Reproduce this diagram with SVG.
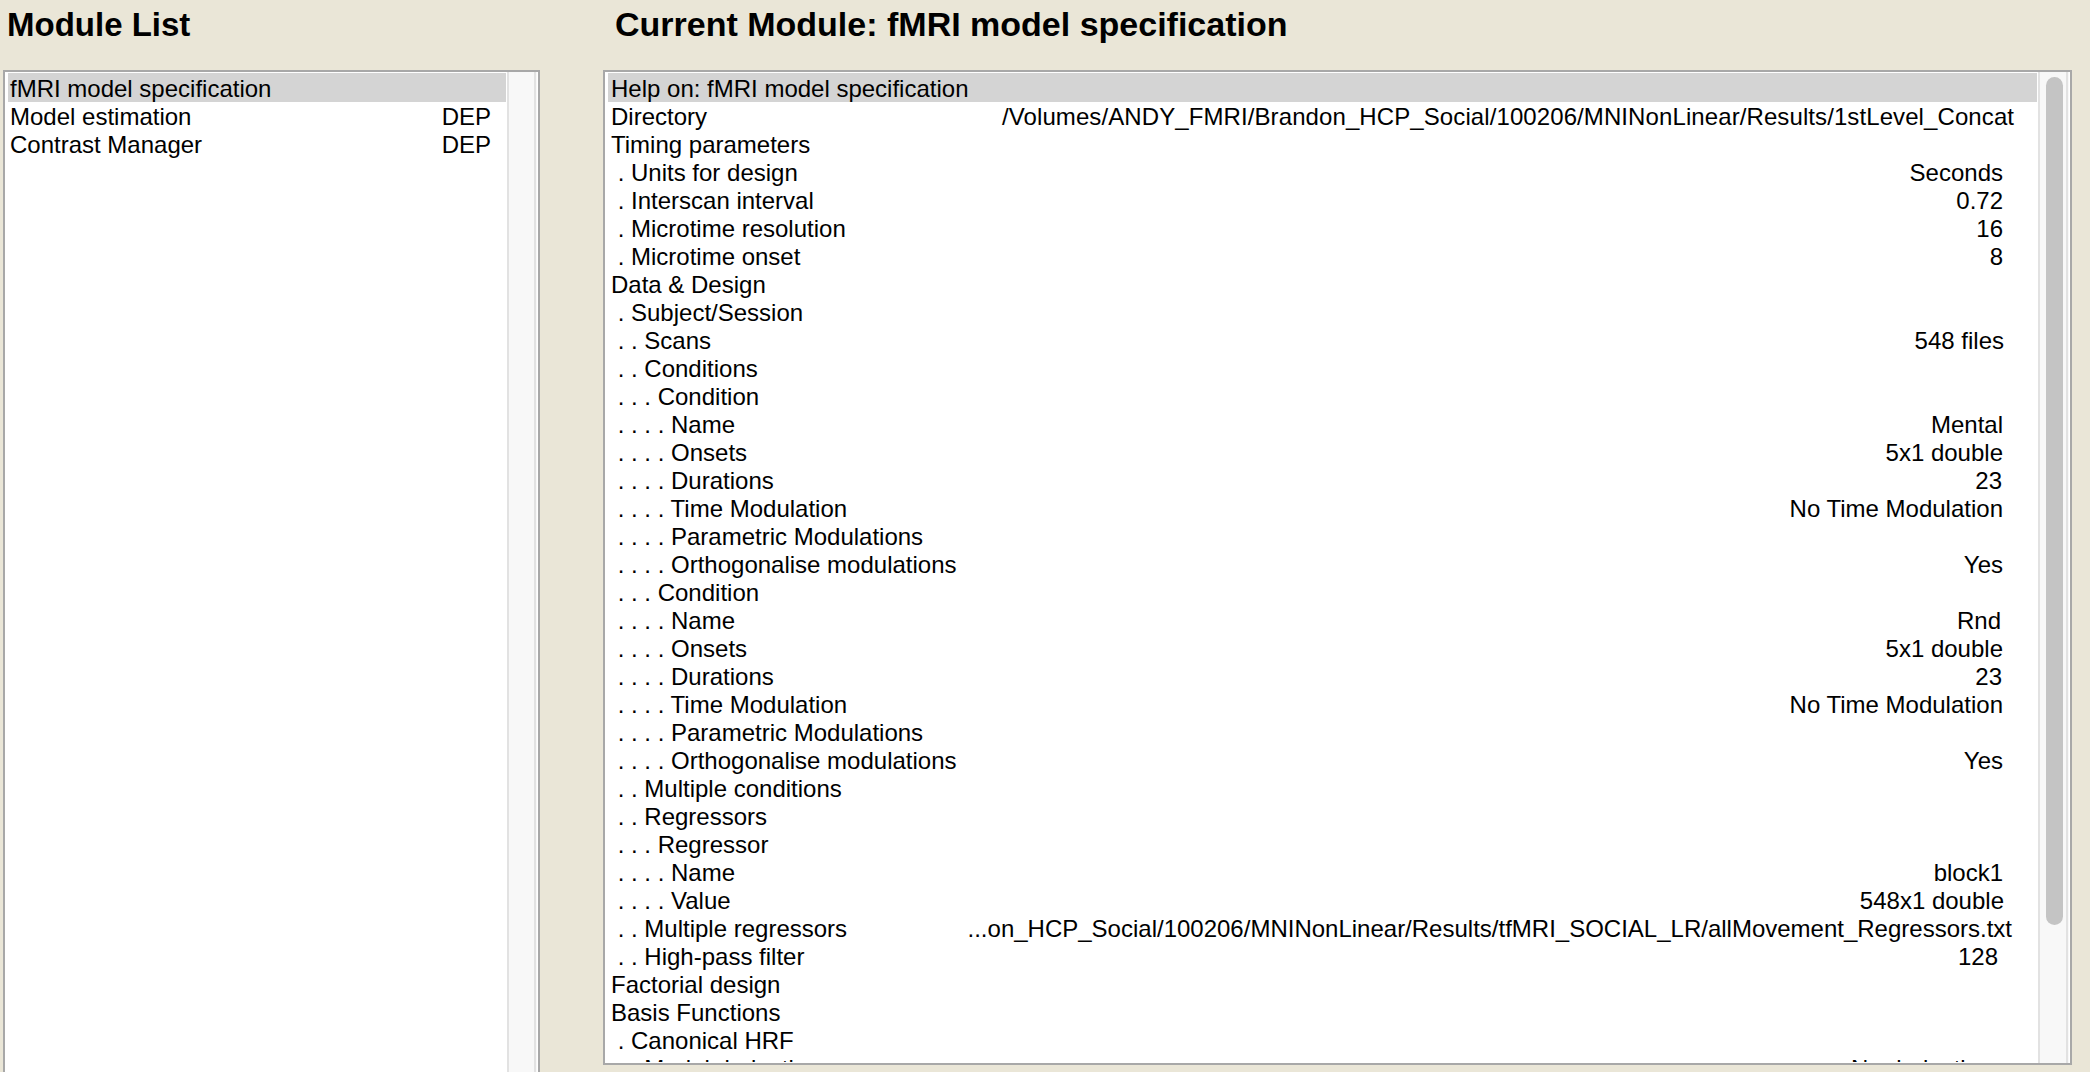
<svg xmlns="http://www.w3.org/2000/svg" width="2090" height="1072" viewBox="0 0 2090 1072">
<style>
  .title { font-family: "Liberation Sans", Arial, sans-serif; font-weight: bold; font-size: 33px; fill: #000; }
  .t { font-family: "Liberation Sans", Arial, sans-serif; font-size: 24px; fill: #000; white-space: pre; }
  .v { font-family: "Liberation Sans", Arial, sans-serif; font-size: 24px; fill: #000; text-anchor: end; }
  .box { fill: #ffffff; stroke: #a8a8a8; stroke-width: 2; }
  .hl { fill: #d4d4d4; }
  .trough { fill: #f8f8f8; }
  .tline { stroke: #e2e2e2; stroke-width: 2; }
</style>
<defs>
  <clipPath id="rclip"><rect x="605" y="72" width="1432" height="990"/></clipPath>
  <clipPath id="lclip"><rect x="5" y="72" width="501" height="1000"/></clipPath>
</defs>
<rect x="0" y="0" width="2090" height="1072" fill="#eae6d7"/>

<g id="module-list">
  <text class="title" x="7" y="36">Module List</text>
  <rect class="box" x="4" y="71" width="535" height="1010"/>
  <rect class="trough" x="507" y="72" width="30" height="1000"/>
  <line class="tline" x1="508" y1="72" x2="508" y2="1072"/>
  <line class="tline" x1="535" y1="72" x2="535" y2="1072"/>
  <g clip-path="url(#lclip)">
    <rect class="hl" x="8" y="73" width="498" height="29"/>
    <text class="t" x="10" y="97">fMRI model specification</text>
    <text class="t" x="10" y="125">Model estimation</text>
    <text class="v" x="491" y="125">DEP</text>
    <text class="t" x="10" y="153">Contrast Manager</text>
    <text class="v" x="491" y="153">DEP</text>
  </g>
</g>

<g id="current-module">
  <text class="title" x="615" y="36" style="font-size:34px">Current Module: fMRI model specification</text>
  <rect class="box" x="604" y="71" width="1467" height="993"/>
  <rect class="trough" x="2038" y="72" width="31" height="991"/>
  <line class="tline" x1="2039" y1="72" x2="2039" y2="1063"/>
  <line class="tline" x1="2067" y1="72" x2="2067" y2="1063"/>
  <rect x="2046" y="77" width="17" height="848" rx="8.5" fill="#c4c4c4"/>
  <g clip-path="url(#rclip)">
    <rect class="hl" x="608" y="73" width="1429" height="29"/>
    <text class="t" x="611" y="97">Help on: fMRI model specification</text>
    <text class="t" x="611" y="125">Directory</text>
    <text class="v" x="2014" y="125" textLength="1012" lengthAdjust="spacing">/Volumes/ANDY_FMRI/Brandon_HCP_Social/100206/MNINonLinear/Results/1stLevel_Concat</text>
    <text class="t" x="611" y="153">Timing parameters</text>
    <text class="t" x="611" y="181" xml:space="preserve"> . Units for design</text>
    <text class="v" x="2003" y="181">Seconds</text>
    <text class="t" x="611" y="209" xml:space="preserve"> . Interscan interval</text>
    <text class="v" x="2003" y="209">0.72</text>
    <text class="t" x="611" y="237" xml:space="preserve"> . Microtime resolution</text>
    <text class="v" x="2003" y="237">16</text>
    <text class="t" x="611" y="265" xml:space="preserve"> . Microtime onset</text>
    <text class="v" x="2003" y="265">8</text>
    <text class="t" x="611" y="293">Data &amp; Design</text>
    <text class="t" x="611" y="321" xml:space="preserve"> . Subject/Session</text>
    <text class="t" x="611" y="349" xml:space="preserve"> . . Scans</text>
    <text class="v" x="2004" y="349">548 files</text>
    <text class="t" x="611" y="377" xml:space="preserve"> . . Conditions</text>
    <text class="t" x="611" y="405" xml:space="preserve"> . . . Condition</text>
    <text class="t" x="611" y="433" xml:space="preserve"> . . . . Name</text>
    <text class="v" x="2003" y="433">Mental</text>
    <text class="t" x="611" y="461" xml:space="preserve"> . . . . Onsets</text>
    <text class="v" x="2003" y="461">5x1 double</text>
    <text class="t" x="611" y="489" xml:space="preserve"> . . . . Durations</text>
    <text class="v" x="2002" y="489">23</text>
    <text class="t" x="611" y="517" xml:space="preserve"> . . . . Time Modulation</text>
    <text class="v" x="2003" y="517">No Time Modulation</text>
    <text class="t" x="611" y="545" xml:space="preserve"> . . . . Parametric Modulations</text>
    <text class="t" x="611" y="573" xml:space="preserve"> . . . . Orthogonalise modulations</text>
    <text class="v" x="2003" y="573">Yes</text>
    <text class="t" x="611" y="601" xml:space="preserve"> . . . Condition</text>
    <text class="t" x="611" y="629" xml:space="preserve"> . . . . Name</text>
    <text class="v" x="2001" y="629">Rnd</text>
    <text class="t" x="611" y="657" xml:space="preserve"> . . . . Onsets</text>
    <text class="v" x="2003" y="657">5x1 double</text>
    <text class="t" x="611" y="685" xml:space="preserve"> . . . . Durations</text>
    <text class="v" x="2002" y="685">23</text>
    <text class="t" x="611" y="713" xml:space="preserve"> . . . . Time Modulation</text>
    <text class="v" x="2003" y="713">No Time Modulation</text>
    <text class="t" x="611" y="741" xml:space="preserve"> . . . . Parametric Modulations</text>
    <text class="t" x="611" y="769" xml:space="preserve"> . . . . Orthogonalise modulations</text>
    <text class="v" x="2003" y="769">Yes</text>
    <text class="t" x="611" y="797" xml:space="preserve"> . . Multiple conditions</text>
    <text class="t" x="611" y="825" xml:space="preserve"> . . Regressors</text>
    <text class="t" x="611" y="853" xml:space="preserve"> . . . Regressor</text>
    <text class="t" x="611" y="881" xml:space="preserve"> . . . . Name</text>
    <text class="v" x="2003" y="881">block1</text>
    <text class="t" x="611" y="909" xml:space="preserve"> . . . . Value</text>
    <text class="v" x="2004" y="909">548x1 double</text>
    <text class="t" x="611" y="937" xml:space="preserve"> . . Multiple regressors</text>
    <text class="v" x="2012" y="937">...on_HCP_Social/100206/MNINonLinear/Results/tfMRI_SOCIAL_LR/allMovement_Regressors.txt</text>
    <text class="t" x="611" y="965" xml:space="preserve"> . . High-pass filter</text>
    <text class="v" x="1998" y="965">128</text>
    <text class="t" x="611" y="993">Factorial design</text>
    <text class="t" x="611" y="1021">Basis Functions</text>
    <text class="t" x="611" y="1049" xml:space="preserve"> . Canonical HRF</text>
    <text class="t" x="611" y="1077" xml:space="preserve"> . . Model derivatives</text>
    <text class="v" x="2003" y="1077">No derivatives</text>
  </g>
</g>
</svg>
